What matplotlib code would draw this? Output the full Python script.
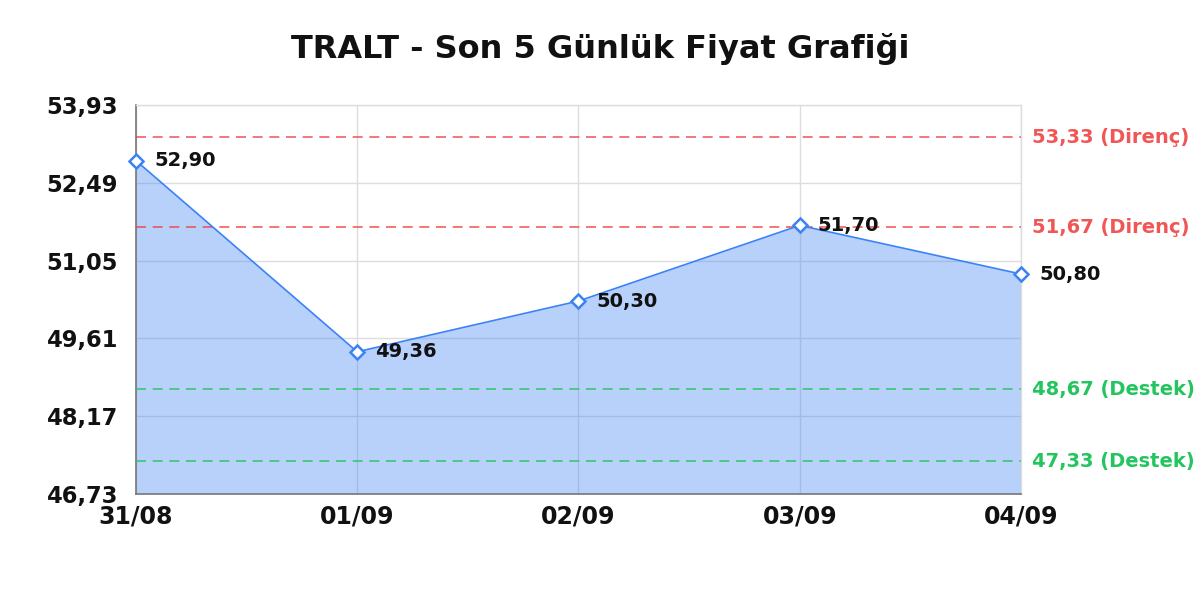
import matplotlib
matplotlib.use("Agg")
import matplotlib.pyplot as plt
import numpy as np

title = "TRALT - Son 5 Günlük Fiyat Grafiği"
dates = ["31/08", "01/09", "02/09", "03/09", "04/09"]
prices = [52.90, 49.36, 50.30, 51.70, 50.80]
resistance = [53.33, 51.67]
support = [48.67, 47.33]
y_min, y_max = 46.73, 53.93

def fmt(v):
    return f"{v:.2f}".replace(".", ",")

plt.rcParams['font.family'] = ['DejaVu Sans']
fig = plt.figure(figsize=(12, 6), dpi=100)
ax = fig.add_axes([0.1133, 0.177, 0.7375, 0.648])

x = np.arange(len(dates))
ax.fill_between(x, prices, y_min, color='#3b82f6', alpha=0.36, linewidth=0, zorder=2)
ax.plot(x, prices, color='#3b82f6', linewidth=1.2, zorder=4)
ax.plot(x, prices, linestyle='none', marker='D', markersize=7, markerfacecolor='white',
        markeredgecolor='#3b82f6', markeredgewidth=1.8, zorder=5, clip_on=False)

for xi, p in zip(x, prices):
    ax.annotate(fmt(p), (xi, p), xytext=(13, 0), textcoords='offset points',
                ha='left', va='center', fontsize=14, fontweight='bold', color='#111111', zorder=6)

for r in resistance:
    ax.axhline(r, color='#ef4444', linestyle=(0, (6, 4)), linewidth=1.2, alpha=0.85, zorder=3)
    ax.annotate(f"{fmt(r)} (Direnç)", (1, r), xycoords=('axes fraction', 'data'),
                xytext=(8, 0), textcoords='offset points', ha='left', va='center',
                fontsize=14, fontweight='bold', color='#ef4444', alpha=0.9)
for s in support:
    ax.axhline(s, color='#22c55e', linestyle=(0, (6, 4)), linewidth=1.2, alpha=0.85, zorder=3)
    ax.annotate(f"{fmt(s)} (Destek)", (1, s), xycoords=('axes fraction', 'data'),
                xytext=(8, 0), textcoords='offset points', ha='left', va='center',
                fontsize=14, fontweight='bold', color='#22c55e')

ax.set_xlim(0, len(dates) - 1)
ax.set_ylim(y_min, y_max)
yt = np.linspace(y_min, y_max, 6)
ax.set_yticks(yt)
ax.set_yticklabels([fmt(v) for v in yt])
ax.set_xticks(x)
ax.set_xticklabels(dates)
ax.tick_params(axis='y', length=0, labelsize=16.3, pad=13)
ax.tick_params(axis='x', length=0, labelsize=17, pad=8)
for lab in ax.get_xticklabels() + ax.get_yticklabels():
    lab.set_fontweight('bold')
    lab.set_color('#111111')

ax.grid(True, color='#dddddd', linewidth=1, zorder=1)
ax.set_axisbelow(True)
for side in ['top', 'right']:
    ax.spines[side].set_color('#dddddd')
    ax.spines[side].set_linewidth(1)
for side in ['left', 'bottom']:
    ax.spines[side].set_color('#777777')
    ax.spines[side].set_linewidth(1.2)

fig.text(0.5, 0.918, title, ha='center', va='center', fontsize=23, fontweight='bold', color='#111111')

fig.savefig("out.png", dpi=100)
